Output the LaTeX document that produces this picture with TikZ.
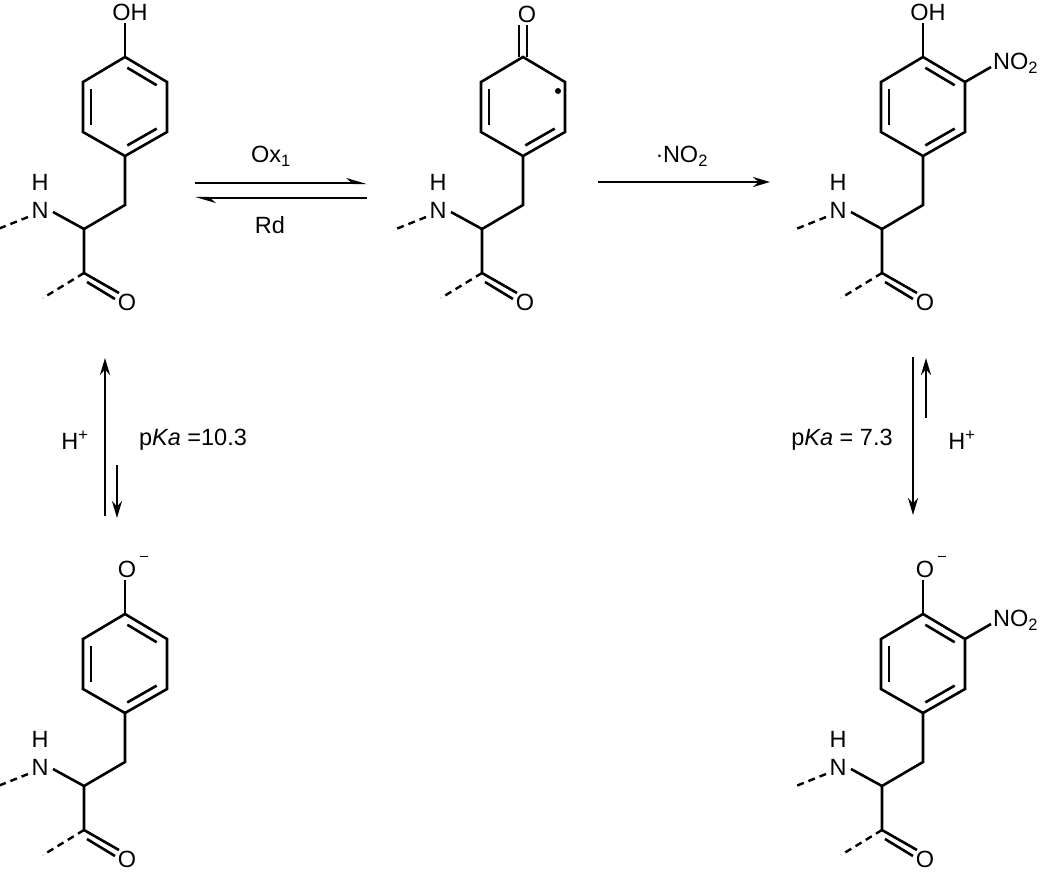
\documentclass[tikz,border=0pt]{standalone}
\usepackage{fontspec}
\setmainfont{Liberation Sans}
\usetikzlibrary{arrows.meta,calc}

\tikzset{
  bond/.style={line width=2.6pt},
  dashbond/.style={line width=2.4pt, dash pattern=on 7pt off 5pt},
  atom/.style={inner sep=0pt, font=\fontsize{23.5}{28}\selectfont},
  label/.style={inner sep=0pt, font=\fontsize{23.5}{28}\selectfont},
  rxn/.style={line width=2.2pt, -{Stealth[length=17pt,width=10pt]}},
  half/.style={line width=2.2pt, -{Stealth[length=17pt,width=10pt,harpoon]}}
}

% ring + backbone, origin at the top ring carbon
\newcommand{\backbone}{%
  \draw[bond] (0,0) -- (42,25) -- (42,75) -- (0,99) -- (-42,75) -- (-42,25) -- cycle;
  \draw[bond] (-34,32) -- (-34,68);
  \draw[bond] (31.7,71.6) -- (2.3,88.4);
  \draw[bond] (0,99) -- (0,148) -- (-41,172) -- (-72,155);
  \node[atom] at (-85,153) {N};
  \node[atom] at (-85,125) {H};
  \draw[dashbond] (-97,160) -- (-127,172);
  \draw[bond] (-41,172) -- (-41,216) -- (-6,236);
  \draw[bond] (-38,225) -- (-10,242);
  \node[atom] at (2,245) {O};
  \draw[dashbond] (-41,216) -- (-82,241);
}
\newcommand{\topbond}{\draw[bond] (2.3,10.75) -- (31.7,28.25);}
\newcommand{\nitro}{%
  \draw[bond] (42,25) -- (68,10);
  \node[atom, anchor=west] at (70,6) {NO\textsubscript{2}};
}

\begin{document}
\begin{tikzpicture}[x=1pt, y=-1pt]
  \useasboundingbox (0,0) rectangle (1050,871);

  % tyrosine
  \begin{scope}[shift={(125,57)}]
    \backbone \topbond
    \draw[bond] (0,0) -- (0,-34);
    \node[atom] (ohA) at (5,-45) {OH};
  \end{scope}

  % tyrosyl radical
  \begin{scope}[shift={(523,57)}]
    \backbone
    \draw[bond] (-4,0) -- (-4,-32);
    \draw[bond] (4,0) -- (4,-32);
    \node[atom] (oB) at (4,-43) {O};
    \fill (35,34) circle (3pt);
  \end{scope}

  % nitrotyrosine
  \begin{scope}[shift={(923,57)}]
    \backbone \topbond \nitro
    \draw[bond] (0,0) -- (0,-34);
    \node[atom] (ohC) at (5,-45) {OH};
  \end{scope}

  % tyrosinate
  \begin{scope}[shift={(125,614)}]
    \backbone \topbond
    \draw[bond] (0,0) -- (0,-34);
    \node[atom] (oD) at (2,-45) {O};
    \draw[line width=1pt] (15,-58) -- (23,-58);
  \end{scope}

  % nitrotyrosinate
  \begin{scope}[shift={(923,614)}]
    \backbone \topbond \nitro
    \draw[bond] (0,0) -- (0,-34);
    \node[atom] (oE) at (2,-45) {O};
    \draw[line width=1pt] (15,-58) -- (23,-58);
  \end{scope}

  % arrow ends
  \coordinate (oxS) at (195,183);  \coordinate (oxE) at (367,183);
  \coordinate (rdS) at (367,198);  \coordinate (rdE) at (195,198);
  \coordinate (noS) at (598,182);  \coordinate (noE) at (770,182);
  \coordinate (lupS) at (105,516); \coordinate (lupE) at (105,358);
  \coordinate (ldnS) at (117,465); \coordinate (ldnE) at (117,518);
  \coordinate (rdnS) at (913,357); \coordinate (rdnE) at (913,515);
  \coordinate (rupS) at (926,418); \coordinate (rupE) at (926,358);

  \draw[half] (oxS) -- (oxE);
  \draw[half] (rdS) -- (rdE);
  \draw[rxn] (noS) -- (noE);
  \draw[rxn] (lupS) -- (lupE);
  \draw[rxn] (ldnS) -- (ldnE);
  \draw[rxn] (rdnS) -- (rdnE);
  \draw[rxn] (rupS) -- (rupE);

  \node[label] (ox) at (271,156) {Ox\textsubscript{1}};
  \node[label] (rd) at (270,225) {Rd};
  \node[label] (no) at (682,156) {$\cdot$NO\textsubscript{2}};
  \node[label] (hl) at (75,440) {H\textsuperscript{+}};
  \node[label] (pkl) at (193,440) {p\textit{Ka} =10.3};
  \node[label] (pkr) at (842,440) {p\textit{Ka} = 7.3};
  \node[label] (hr) at (962,440) {H\textsuperscript{+}};
\end{tikzpicture}
\end{document}
